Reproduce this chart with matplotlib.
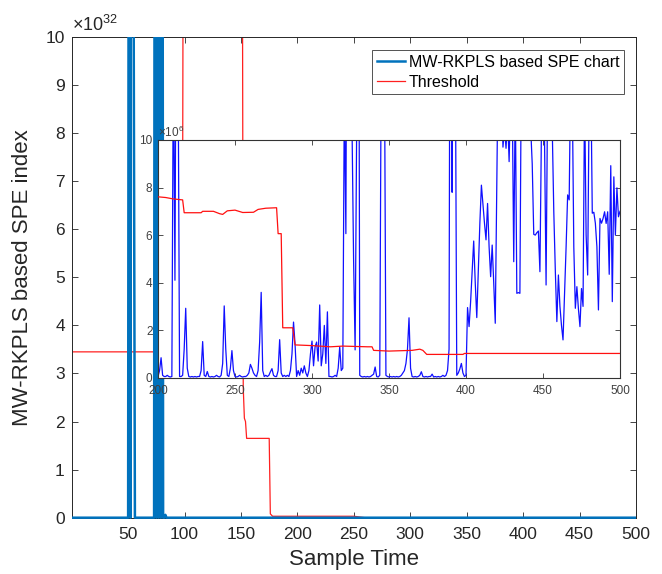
import numpy as np
import matplotlib
matplotlib.use('Agg')
import matplotlib.pyplot as plt
from matplotlib.transforms import Bbox, TransformedBbox

plt.rcParams['font.family'] = ['Liberation Sans', 'DejaVu Sans']
plt.rcParams['mathtext.fontset'] = 'custom'
plt.rcParams['mathtext.rm'] = 'Liberation Sans'
plt.rcParams['mathtext.it'] = 'Liberation Sans:italic'
plt.rcParams['mathtext.bf'] = 'Liberation Sans:bold'

# ---------------- data ----------------
sample_time = np.arange(1, 501)

# main chart SPE spikes (x 1e32), everything else ~0 at that scale
spike_times = [51, 53, 54, 55, 74, 76, 78, 80, 83]
spike_values_1e32 = [30, 30, 25, 9.56, 30, 30, 30, 30, 0.06]

# main chart threshold (x 1e32), breakpoints
thr_main_t = [1, 98, 99, 151, 152, 153, 154, 155, 175, 176, 178, 250, 260, 500]
thr_main_v = [3.45, 3.45, 15, 15, 2.7, 2.07, 2.0, 1.65, 1.65, 0.08, 0.03, 0.03, 0.0, 0.0]

# inset: SPE for samples 200..500 (x 1e6)
inset_t = np.arange(200, 501)
spe_inset_1e6 = [
    0.05, 0.30, 0.84, 0.10, 0.05, 0.05, 0.10, 0.05, 0.03, 0.05,   # 200-209
    14.0, 4.1, 20.0, 14.0, 0.05, 0.05, 0.10, 1.20, 2.92, 0.40,    # 210-219
    0.05, 0.03, 0.05, 0.03, 0.05, 0.03, 0.05, 0.05, 0.30, 1.52,   # 220-229
    0.10, 0.05, 0.26, 0.05, 0.03, 0.05, 0.03, 0.05, 0.10, 0.05,   # 230-239
    0.03, 0.10, 0.60, 3.02, 1.20, 0.10, 0.05, 0.40, 1.14, 0.30,   # 240-249
    0.05, 0.03, 0.05, 0.10, 0.05, 0.03, 0.05, 0.05, 0.10, 0.20,   # 250-259
    0.56, 0.40, 0.20, 0.10, 0.05, 0.30, 1.50, 3.59, 0.30, 0.05,   # 260-269
    0.10, 0.05, 0.10, 0.25, 0.38, 0.10, 0.05, 0.05, 0.30, 1.60,   # 270-279
    0.20, 0.05, 0.10, 0.05, 0.10, 0.05, 0.30, 1.00, 2.34, 1.40,   # 280-289
    0.05, 0.30, 0.10, 0.40, 0.20, 0.50, 0.20, 0.05, 0.30, 1.00,   # 290-299
    1.54, 0.50, 1.30, 1.50, 0.70, 3.06, 0.50, 1.00, 2.20, 0.60,   # 300-309
    2.77, 0.05, 0.05, 0.03, 0.05, 0.10, 0.05, 0.40, 1.30, 0.30,   # 310-319
    0.40, 12.0, 6.06, 25.0, 30.0, 20.0, 10.5, 5.00, 1.17, 10.5,   # 320-329
    30.0, 0.10, 0.05, 0.03, 0.05, 0.03, 0.05, 0.03, 0.05, 0.10,   # 330-339
    0.15, 0.45, 0.05, 0.03, 0.10, 14.0, 30.0, 14.0, 0.10, 0.05,   # 340-349
    0.03, 0.05, 0.03, 0.05, 0.03, 0.05, 0.03, 0.05, 0.10, 0.20,   # 350-359
    0.30, 0.60, 1.20, 2.52, 0.40, 0.05, 0.03, 0.05, 0.03, 0.05,   # 360-369
    0.10, 0.25, 0.05, 0.03, 0.05, 0.03, 0.05, 0.05, 0.15, 0.03,   # 370-379
    0.05, 0.03, 0.05, 0.03, 0.05, 0.10, 0.05, 0.10, 0.30, 1.20,   # 380-389
    30.0, 7.80, 30.0, 15.0, 0.10, 0.20, 0.37, 0.60, 0.20, 0.05,   # 390-399
    0.10, 2.95, 2.15, 3.20, 4.50, 5.75, 4.00, 2.53, 4.50, 6.50,   # 400-409
    8.10, 7.30, 6.50, 5.80, 7.33, 5.50, 4.25, 5.58, 4.00, 2.29,   # 410-419
    8.00, 14.0, 16.0, 12.0, 9.70, 10.5, 9.65, 11.0, 9.09, 12.0,   # 420-429
    12.0, 4.88, 12.0, 3.55, 3.58, 3.55, 14.0, 16.0, 15.0, 16.0,   # 430-439
    14.0, 12.0, 10.5, 9.00, 6.03, 6.00, 6.10, 6.17, 4.46, 10.5,   # 440-449
    14.0, 10.0, 3.90, 12.0, 14.0, 13.0, 10.5, 7.00, 4.50, 2.36,   # 450-459
    4.32, 3.00, 2.20, 1.59, 3.50, 5.50, 7.69, 7.48, 13.0, 12.0,   # 460-469
    5.50, 2.92, 3.83, 2.90, 2.15, 3.75, 3.00, 12.0, 6.00, 4.32,   # 470-479
    12.0, 13.0, 6.92, 6.96, 6.50, 5.51, 2.85, 6.70, 6.50, 6.70,   # 480-489
    6.98, 6.49, 6.98, 4.35, 8.92, 3.20, 8.45, 6.00, 7.99, 6.77,   # 490-499
    7.00,                                                         # 500
]

# inset threshold (x 1e6), breakpoints
thr_inset_t = [200, 205, 210, 216, 217, 228, 229, 236, 240, 242, 245, 250, 255,
               262, 265, 270, 277, 278, 280, 281, 287.5, 289, 300, 312, 320,
               336, 339, 340, 350, 365, 370, 372, 374.5, 398, 399, 500]
thr_inset_v = [7.61, 7.58, 7.52, 7.48, 6.94, 6.94, 7.0, 7.0, 6.9, 6.87, 7.02, 7.05, 6.95,
               6.96, 7.08, 7.13, 7.15, 6.06, 6.06, 2.10, 2.10, 1.38, 1.35, 1.30, 1.33,
               1.30, 1.30, 1.15, 1.12, 1.15, 1.20, 1.15, 0.98, 0.98, 1.02, 1.02]

legend_labels = ['MW-RKPLS based SPE chart', 'Threshold']

# ---------------- figure ----------------
W, H = 662, 574
fig = plt.figure(figsize=(W / 100, H / 100), dpi=100)

ax = fig.add_axes([71.7 / W, 1 - 517.7 / H, 564.3 / W, 480.7 / H])

spe_main = np.zeros(len(sample_time))
for t, v in zip(spike_times, spike_values_1e32):
    spe_main[t - 1] = v

blue_main, = ax.plot(sample_time, spe_main, color='#0072BD', lw=1.8,
                     label=legend_labels[0], zorder=3)
red_main, = ax.plot(thr_main_t, thr_main_v, color='#FF2020', lw=0.9,
                    label=legend_labels[1], zorder=2)
clipbox = TransformedBbox(Bbox([[0, -0.01], [1, 1]]), ax.transAxes)
blue_main.set_clip_box(clipbox)

ax.set_xlim(0, 500)
ax.set_ylim(0, 10)
ax.set_xticks(np.arange(50, 501, 50))
ax.set_yticks(np.arange(0, 11, 1))
ax.tick_params(direction='in', length=4.5, width=0.6, top=True, right=True,
               labelsize=12.5, colors='#262626', labelcolor='#262626')
ax.tick_params(axis='x', pad=7)
ax.tick_params(axis='y', pad=5)
for s in ax.spines.values():
    s.set_color('#262626')
    s.set_linewidth(0.7)

ax.set_xlabel('Sample Time', fontsize=16, color='#262626')
ax.set_ylabel('MW-RKPLS based SPE index', fontsize=16, color='#262626')
ax.xaxis.set_label_coords(0.5, -0.066)
ax.yaxis.set_label_coords(-0.069, 0.5)

ax.text(0.0, 1.004, r'$\times\mathregular{10^{32}}$', transform=ax.transAxes,
        ha='left', va='bottom', fontsize=13, color='#262626')

leg = ax.legend(handles=[blue_main, red_main], loc='upper right',
                bbox_to_anchor=(0.9788, 0.973), borderaxespad=0,
                fontsize=11.5, frameon=True, fancybox=False, edgecolor='#262626',
                handlelength=1.75, handletextpad=0.25, borderpad=0.3,
                labelspacing=0.3)
leg.get_frame().set_linewidth(0.7)
leg.set_zorder(10)

# ---------------- inset ----------------
ax2 = fig.add_axes([158 / W, 1 - 377.7 / H, 462 / W, 237.7 / H])
ax2.set_facecolor('white')
blue_in, = ax2.plot(inset_t, spe_inset_1e6, color='#1010FF', lw=0.9, zorder=2)
red_in, = ax2.plot(thr_inset_t, thr_inset_v, color='#FF1010', lw=0.9, zorder=3)
blue_in.set_clip_box(TransformedBbox(Bbox([[0, -0.01], [1, 1]]), ax2.transAxes))
ax2.set_xlim(200, 500)
ax2.set_ylim(0, 10)
ax2.set_xticks(np.arange(200, 501, 50))
ax2.set_yticks(np.arange(0, 11, 2))
ax2.tick_params(direction='in', length=3.5, width=0.6, top=True, right=True,
                labelsize=8.5, colors='#333333', labelcolor='#404040')
ax2.tick_params(axis='x', pad=5.5)
ax2.tick_params(axis='y', pad=4)
for s in ax2.spines.values():
    s.set_color('#333333')
    s.set_linewidth(0.8)
ax2.text(0.0, 1.0, r'$\times\mathregular{10^{6}}$', transform=ax2.transAxes,
         ha='left', va='bottom', fontsize=8.5, color='#404040')

fig.savefig('out.png', dpi=100)
